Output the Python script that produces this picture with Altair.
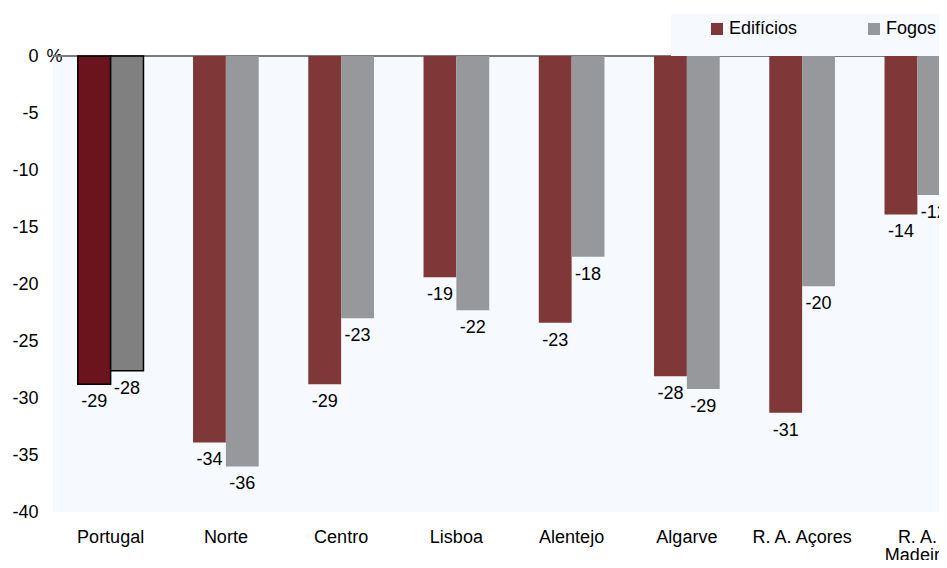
import altair as alt
import pandas as pd

regions = ["Portugal", "Norte", "Centro", "Lisboa", "Alentejo", "Algarve", "R. A. Açores", "R. A. Madeira"]
series_names = ["Edifícios", "Fogos"]
edificios = [-28.8, -33.9, -28.8, -19.4, -23.4, -28.1, -31.3, -13.9]
fogos = [-27.6, -36.0, -23.0, -22.3, -17.6, -29.2, -20.2, -12.2]
y_ticks = [-40, -35, -30, -25, -20, -15, -10, -5, 0]

rows = []
for r, e, f in zip(regions, edificios, fogos):
    rows.append({"region": r, "series": "Edifícios", "value": e, "label": f"{e:.0f}"})
    rows.append({"region": r, "series": "Fogos", "value": f, "label": f"{f:.0f}"})
df = pd.DataFrame(rows)

FONT = "Liberation Sans"
FS = 18

x_enc = alt.X(
    "region:N",
    sort=regions,
    scale=alt.Scale(range=[0, 922], paddingInner=0.43, paddingOuter=0.215),
    axis=alt.Axis(
        title=None, labelFontSize=FS, labelFont=FONT, labelColor="#000000",
        labelPadding=16, labelLineHeight=18, ticks=False, domain=False, labelAngle=0,
        labelExpr="datum.value == 'R. A. Madeira' ? ['R. A.', 'Madeira'] : datum.value",
    ),
)
xoff = alt.XOffset("series:N", sort=series_names, scale=alt.Scale(paddingInner=0, paddingOuter=0))
y_enc = alt.Y(
    "value:Q",
    scale=alt.Scale(domain=[-40, 0], nice=False),
    axis=alt.Axis(
        values=y_ticks, title="%", titleAngle=0, titleX=1, titleY=0,
        titleAlign="center", titleBaseline="middle", titleFontSize=FS,
        titleFontWeight="normal", titleFont=FONT, titleColor="#000000",
        labelFontSize=FS, labelFont=FONT, labelColor="#000000", labelPadding=15,
        ticks=False, domain=False, gridWidth=1.5,
        gridColor={"condition": {"test": "datum.value === -40", "value": "#dde1e6"}, "value": "#b4b4b8"},
        labelExpr="'' + datum.value",
    ),
)

base = alt.Chart(df)

zero = base.mark_rule(color="#7b7b7b", strokeWidth=1.5).encode(y=alt.datum(0))

bars = base.mark_bar().encode(
    x=x_enc, xOffset=xoff, y=y_enc,
    color=alt.Color(
        "series:N",
        scale=alt.Scale(domain=series_names, range=["#7f3737", "#97989c"]),
        legend=alt.Legend(
            orient="none", legendX=618, legendY=-42, direction="horizontal",
            title=" ", titleOrient="bottom", titleFontSize=8, titlePadding=4,
            symbolType="square", symbolSize=144, symbolStrokeWidth=0, symbolOffset=31,
            labelFontSize=FS, labelFont=FONT, labelColor="#000000",
            fillColor="#f6f9fd", padding=6, columnPadding=36, labelOffset=3,
        ),
    ),
)

pt = base.transform_filter("datum.region == 'Portugal'").mark_bar(stroke="#000000", strokeWidth=1.5).encode(
    x=x_enc, xOffset=xoff, y=y_enc,
    fill=alt.condition("datum.series == 'Edifícios'", alt.value("#6b141e"), alt.value("#808080")),
)

labels = base.mark_text(baseline="middle", dy=18, fontSize=FS, font=FONT, color="#000000").encode(
    x=x_enc, xOffset=xoff, y=y_enc, text="label:N"
)

chart = alt.layer(zero, bars, pt, labels).properties(
    width=886, height=456,
    autosize=alt.AutoSizeParams(type="none"),
    padding={"left": 45, "top": 48, "right": 0, "bottom": 48},
).configure_view(stroke=None, fill="#f6f9fd")

chart.save("out.html", embed_options={"renderer": "svg", "actions": False})
